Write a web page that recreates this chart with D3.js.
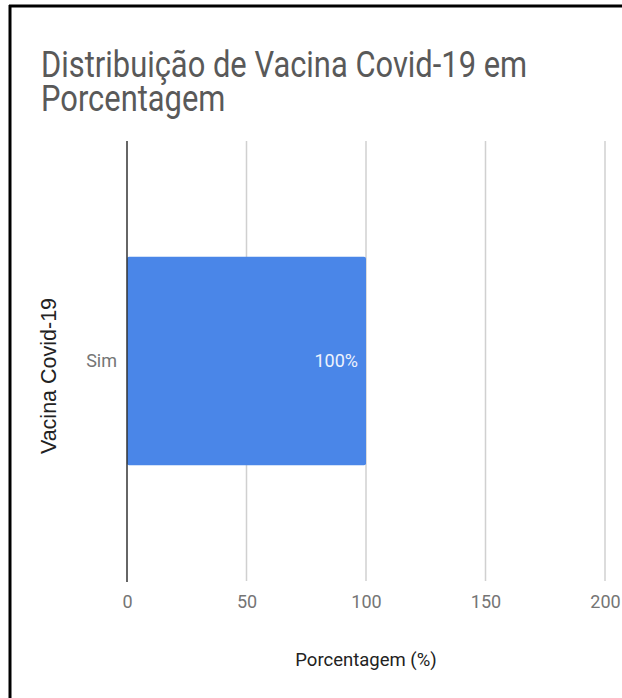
<!DOCTYPE html>
<html><head><meta charset="utf-8">
<script src="https://cdn.jsdelivr.net/npm/d3@7"></script>
<style>html,body{margin:0;padding:0;background:#fff;}svg{display:block;}</style>
</head><body>
<svg id="chart" width="622" height="698"></svg>
<script>
const categories = ["Sim"];
const values = [100];
const valueLabels = ["100%"];
const xTicks = [0, 50, 100, 150, 200];
const titleLines = ["Distribuição de Vacina Covid-19 em", "Porcentagem"];
const xTitle = "Porcentagem (%)";
const yTitle = "Vacina Covid-19";

const svg = d3.select("#chart");
const font = "Roboto, 'Noto Sans', sans-serif";
const plot = {left: 127, right: 605, top: 141, bottom: 581};

// frame (cropped screenshot border)
svg.append("line").attr("x1", 9).attr("x2", 622).attr("y1", 6).attr("y2", 6)
  .attr("stroke", "#000").attr("stroke-width", 3);
svg.append("line").attr("x1", 10).attr("x2", 10).attr("y1", 5).attr("y2", 698)
  .attr("stroke", "#000").attr("stroke-width", 3);

// title (horizontally narrow, as in the reference)
const title = svg.append("g").attr("transform", "translate(41,0) scale(0.835,1)")
  .append("text").attr("font-family", font).attr("font-size", 37)
  .attr("fill", "#595959");
titleLines.forEach((t, i) => {
  title.append("tspan").attr("x", 0).attr("y", 77 + i * 34).text(t);
});

const x = d3.scaleLinear().domain([0, 200]).range([plot.left, plot.right]);
const y = d3.scaleBand().domain(categories).range([plot.top, plot.bottom]).padding(0.357);

// gridlines
svg.append("g").selectAll("line").data(xTicks.filter(d => d !== 0)).join("line")
  .attr("x1", d => x(d)).attr("x2", d => x(d))
  .attr("y1", plot.top).attr("y2", plot.bottom)
  .attr("stroke", "#d0d0d0").attr("stroke-width", 1.5);

// bars
svg.append("g").selectAll("rect").data(values).join("rect")
  .attr("x", x(0)).attr("y", (d, i) => y(categories[i]))
  .attr("width", d => x(d) - x(0)).attr("height", y.bandwidth())
  .attr("rx", 2).attr("fill", "#4a86e8");

// zero line
svg.append("line").attr("x1", x(0)).attr("x2", x(0))
  .attr("y1", plot.top).attr("y2", plot.bottom + 1)
  .attr("stroke", "#333").attr("stroke-width", 1.5);

// value labels
svg.append("g").selectAll("text").data(values).join("text")
  .attr("x", d => x(d) - 8).attr("y", (d, i) => y(categories[i]) + y.bandwidth() / 2)
  .attr("dy", "0.35em").attr("text-anchor", "end")
  .attr("font-family", font).attr("font-size", 18).attr("fill", "#eef3fd")
  .text((d, i) => valueLabels[i]);

// x axis
const xAxis = d3.axisBottom(x).tickValues(xTicks).tickSize(0).tickPadding(0);
const gx = svg.append("g").attr("transform", `translate(0,${plot.bottom})`).call(xAxis);
gx.select(".domain").remove();
gx.selectAll("text").attr("font-family", font).attr("font-size", 18)
  .attr("fill", "#757575").attr("dy", null).attr("y", 27);

// y axis
const yAxis = d3.axisLeft(y).tickSize(0).tickPadding(10);
const gy = svg.append("g").attr("transform", `translate(${plot.left},0)`).call(yAxis);
gy.select(".domain").remove();
gy.selectAll("text").attr("font-family", font).attr("font-size", 18)
  .attr("fill", "#757575");

// axis titles
svg.append("text").attr("x", 366).attr("y", 666).attr("text-anchor", "middle")
  .attr("font-family", font).attr("font-size", 18.5).attr("fill", "#222")
  .text(xTitle);
svg.append("text").attr("transform", "translate(56,376) rotate(-90)")
  .attr("text-anchor", "middle")
  .attr("font-family", "'Liberation Sans', Arial, sans-serif").attr("font-size", 21.5).attr("fill", "#222")
  .text(yTitle);
</script>
</body></html>
